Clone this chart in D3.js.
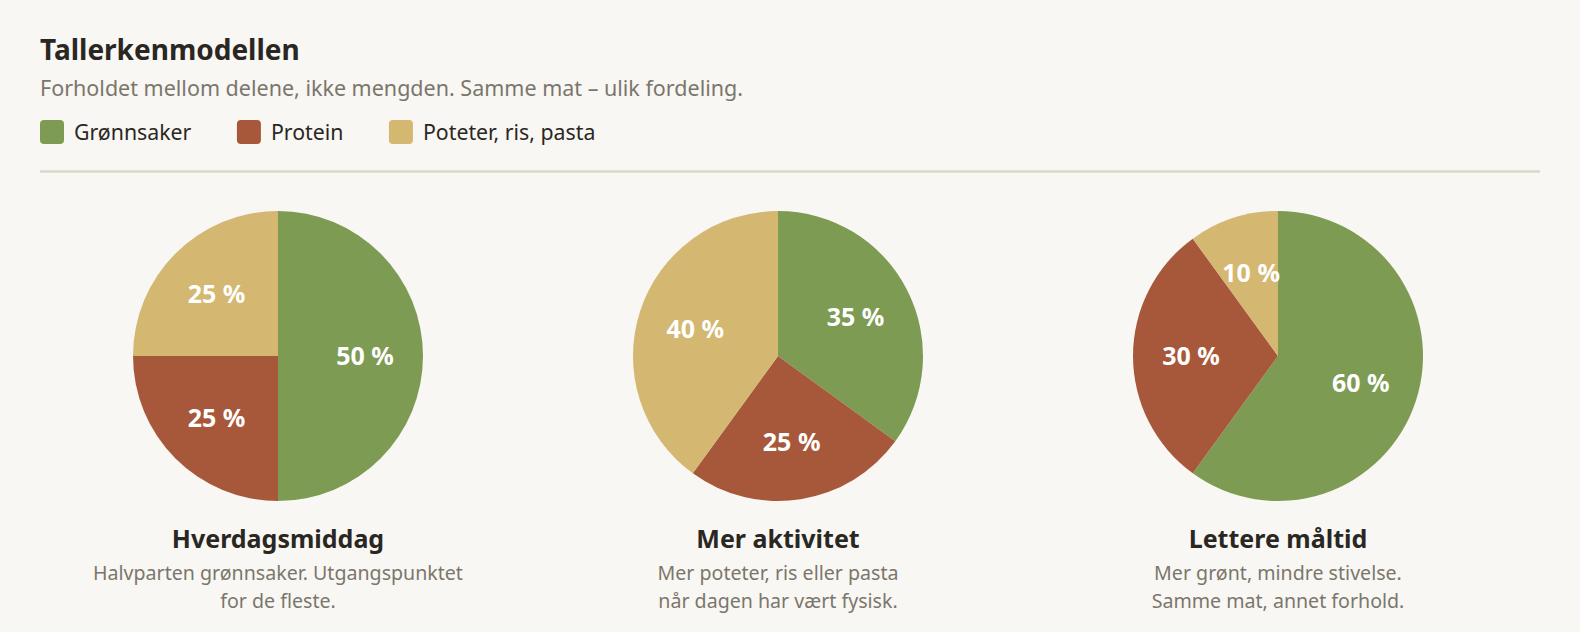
<!DOCTYPE html>
<html lang="no">
<head>
<meta charset="utf-8">
<script src="https://cdn.jsdelivr.net/npm/d3@7"></script>
<style>
  html, body { margin: 0; padding: 0; background: #f9f7f3; }
  svg { display: block; font-family: "Noto Sans", "Open Sans", sans-serif; }
</style>
</head>
<body>
<svg id="chart" width="1580" height="632"></svg>
<script>
// ---- data ----
const chartTitle = "Tallerkenmodellen";
const chartSubtitle = "Forholdet mellom delene, ikke mengden. Samme mat – ulik fordeling.";
const categories = ["Grønnsaker", "Protein", "Poteter, ris, pasta"];
const categoryColors = ["#7d9b53", "#a8583a", "#d4b770"];
const meals = ["Hverdagsmiddag", "Mer aktivitet", "Lettere måltid"];
const mealDescriptions = [
  ["Halvparten grønnsaker. Utgangspunktet", "for de fleste."],
  ["Mer poteter, ris eller pasta", "når dagen har vært fysisk."],
  ["Mer grønt, mindre stivelse.", "Samme mat, annet forhold."]
];
const hverdagsmiddag = [50, 25, 25];
const merAktivitet = [35, 25, 40];
const lettereMaltid = [60, 30, 10];
const mealValues = [hverdagsmiddag, merAktivitet, lettereMaltid];

// ---- layout ----
const W = 1580, H = 632;
const svg = d3.select("#chart");
svg.append("rect").attr("width", W).attr("height", H).attr("fill", "#f9f7f3");

svg.append("text").attr("x", 40).attr("y", 60)
  .attr("font-size", 28).attr("font-weight", 700).attr("fill", "#2a2723")
  .text(chartTitle);
svg.append("text").attr("x", 40).attr("y", 96)
  .attr("font-size", 21.5).attr("fill", "#7b766c")
  .text(chartSubtitle);

// legend
const color = d3.scaleOrdinal().domain(categories).range(categoryColors);
const legend = svg.append("g").attr("transform", "translate(40,120)");
let lx = 0;
categories.forEach(c => {
  const g = legend.append("g").attr("transform", `translate(${lx},0)`);
  g.append("rect").attr("width", 24).attr("height", 24).attr("rx", 4).attr("fill", color(c));
  const t = g.append("text").attr("x", 34).attr("y", 19.5)
    .attr("font-size", 21.3).attr("fill", "#2a2723").text(c);
  lx += 34 + t.node().getComputedTextLength() + 45.5;
});

// rule
svg.append("line").attr("x1", 40).attr("x2", 1540).attr("y1", 171.5).attr("y2", 171.5)
  .attr("stroke", "#dbd7c9").attr("stroke-width", 2.5);

// pies
const x = d3.scalePoint().domain(meals).range([278, 1278]);
const cy = 356, r = 145;
const pie = d3.pie().sort(null).value(d => d);
const arc = d3.arc().innerRadius(0).outerRadius(r);
const labelArc = d3.arc().innerRadius(r * 0.6).outerRadius(r * 0.6);

meals.forEach((m, i) => {
  const g = svg.append("g").attr("transform", `translate(${x(m)},${cy})`);
  const arcs = pie(mealValues[i]);
  g.selectAll("path").data(arcs).join("path")
    .attr("d", arc)
    .attr("fill", (d, j) => color(categories[j]));
  g.selectAll("text.lbl").data(arcs).join("text")
    .attr("class", "lbl")
    .attr("transform", d => `translate(${labelArc.centroid(d)})`)
    .attr("text-anchor", "middle").attr("dy", "0.36em")
    .attr("font-size", 25).attr("font-weight", 700).attr("fill", "#ffffff")
    .text(d => d.data + " %");

  svg.append("text").attr("x", x(m)).attr("y", 548)
    .attr("text-anchor", "middle").attr("font-size", 25).attr("font-weight", 700)
    .attr("fill", "#2a2723").text(m);
  mealDescriptions[i].forEach((line, k) => {
    svg.append("text").attr("x", x(m)).attr("y", 580 + k * 28)
      .attr("text-anchor", "middle").attr("font-size", 19.6).attr("fill", "#7b766c")
      .text(line);
  });
});
</script>
</body>
</html>
